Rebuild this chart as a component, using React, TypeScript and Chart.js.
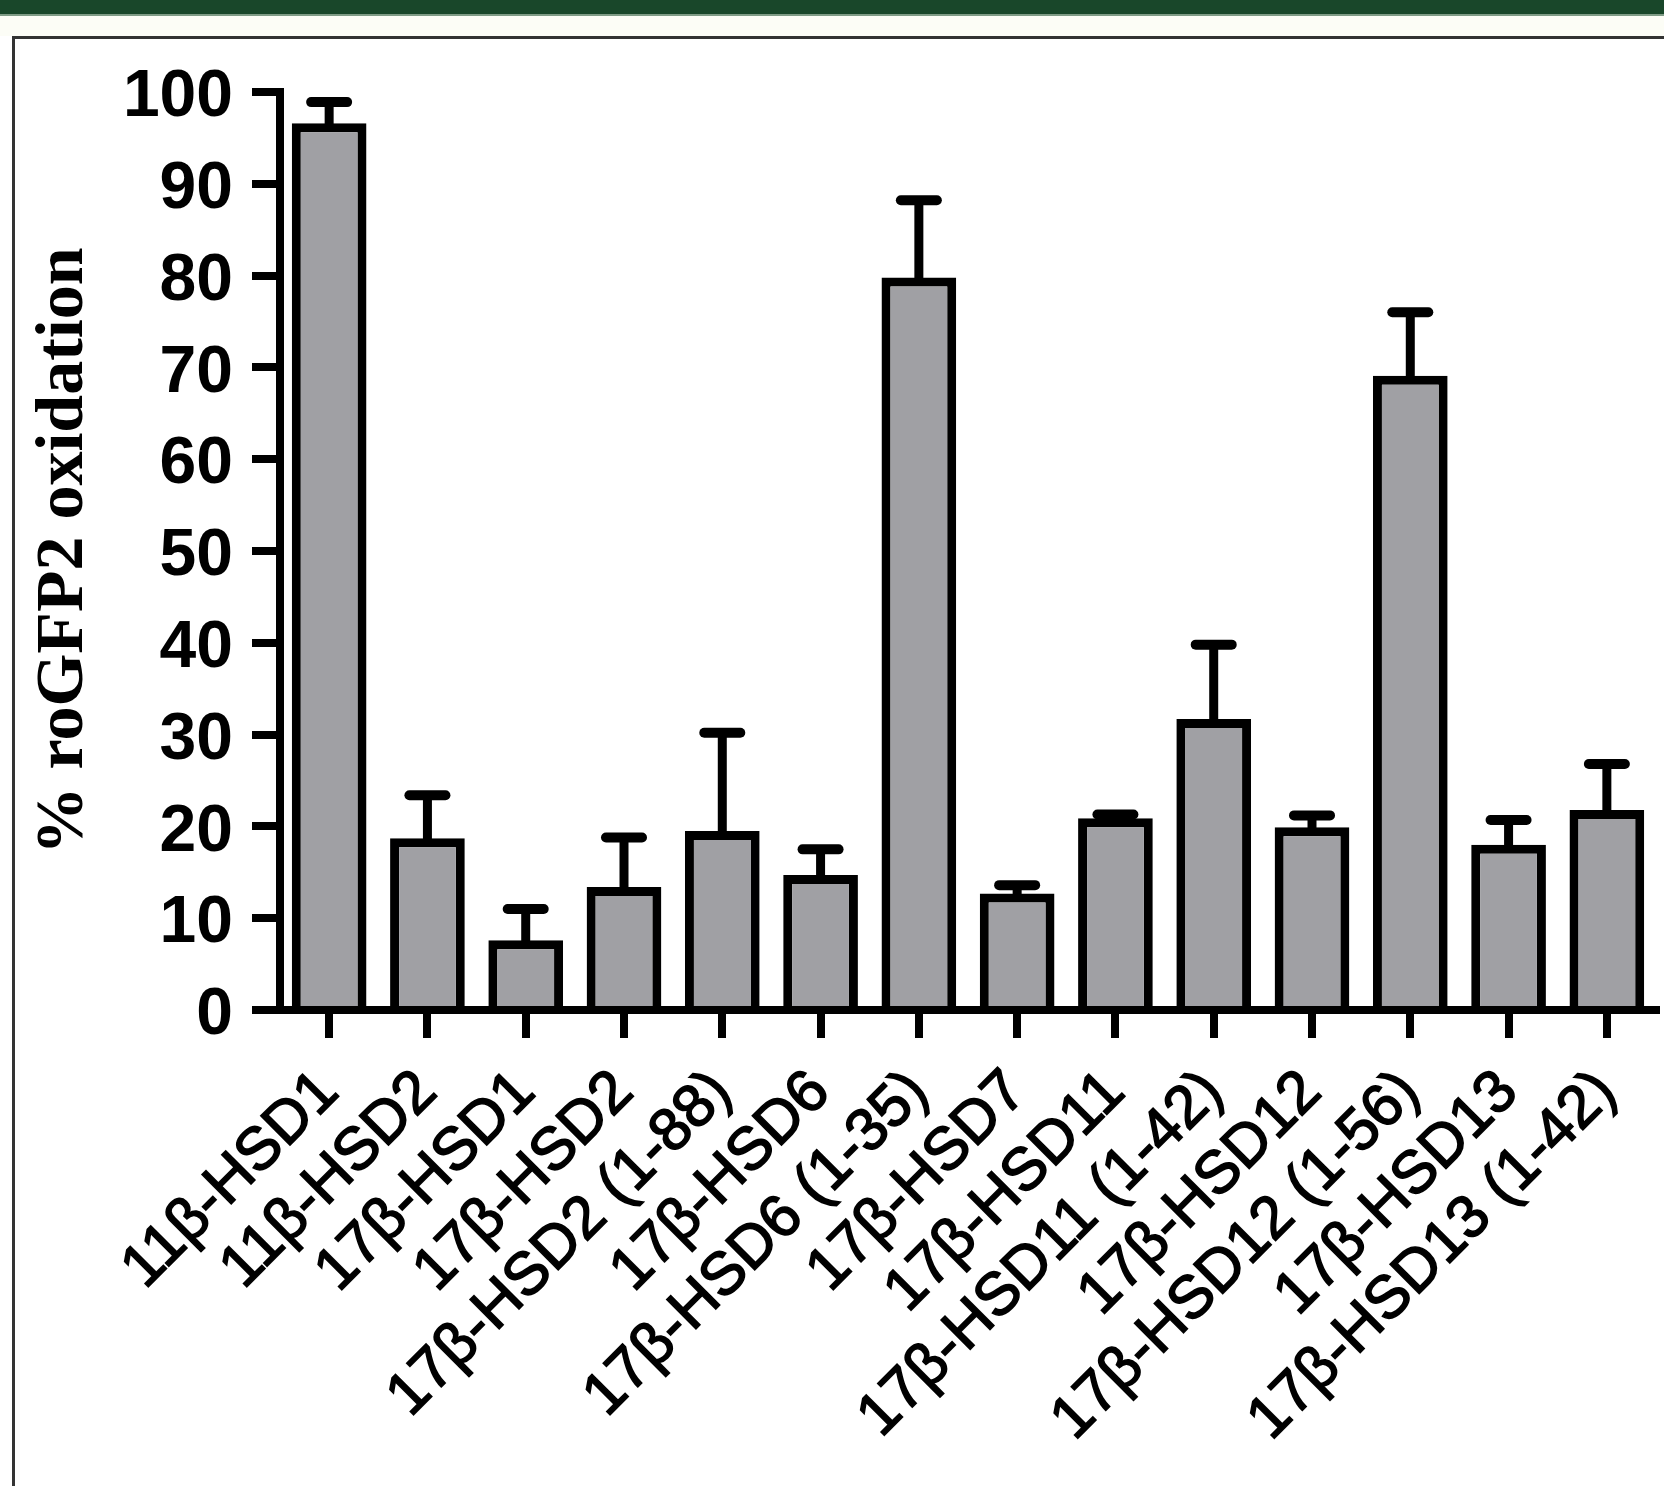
import React, { useEffect, useRef } from 'react';
import { Chart, registerables } from 'chart.js';

Chart.register(...registerables);

const categories = [
  '11β-HSD1',
  '11β-HSD2',
  '17β-HSD1',
  '17β-HSD2',
  '17β-HSD2 (1-88)',
  '17β-HSD6',
  '17β-HSD6 (1-35)',
  '17β-HSD7',
  '17β-HSD11',
  '17β-HSD11 (1-42)',
  '17β-HSD12',
  '17β-HSD12 (1-56)',
  '17β-HSD13',
  '17β-HSD13 (1-42)',
];
const meanValues = [96.6, 18.7, 7.6, 13.4, 19.5, 14.7, 79.8, 12.7, 20.9, 31.7, 19.9, 69.1, 18.0, 21.8];
const semValues = [2.3, 4.7, 3.4, 5.4, 10.7, 2.8, 8.4, 0.9, 0.4, 8.1, 1.3, 6.9, 2.7, 5.0];
const yTickValues = [0, 10, 20, 30, 40, 50, 60, 70, 80, 90, 100];
const yTitle = '% roGFP2 oxidation';

const errorBarPlugin = {
  id: 'errorBars',
  afterDatasetsDraw(chart: any) {
    const meta = chart.getDatasetMeta(0);
    const yScale = chart.scales.y;
    const ctx = chart.ctx;
    ctx.save();
    ctx.strokeStyle = '#000';
    meta.data.forEach((bar: any, i: number) => {
      const x = bar.x;
      const yb = yScale.getPixelForValue(meanValues[i]);
      const yt = yScale.getPixelForValue(meanValues[i] + semValues[i]);
      ctx.lineWidth = 9;
      ctx.lineCap = 'butt';
      ctx.beginPath();
      ctx.moveTo(x, yb + 4);
      ctx.lineTo(x, yt);
      ctx.stroke();
      ctx.lineWidth = 10;
      ctx.lineCap = 'round';
      ctx.beginPath();
      ctx.moveTo(x - 18, yt);
      ctx.lineTo(x + 18, yt);
      ctx.stroke();
    });
    ctx.restore();
  },
};

export default function App() {
  const canvasRef = useRef<HTMLCanvasElement | null>(null);

  useEffect(() => {
    if (!canvasRef.current) return;
    const chart = new Chart(canvasRef.current, {
      type: 'bar',
      data: {
        labels: categories,
        datasets: [
          {
            data: meanValues,
            backgroundColor: '#a0a0a4',
            borderColor: '#000',
            borderWidth: 9,
            barPercentage: 0.76,
            categoryPercentage: 1,
          },
        ],
      },
      options: {
        responsive: false,
        animation: false,
        devicePixelRatio: 1,
        layout: { padding: { top: 92, left: 0, right: 8, bottom: 0 } },
        plugins: {
          legend: { display: false },
          tooltip: { enabled: false },
        },
        scales: {
          x: {
            z: 1,
            offset: true,
            grid: {
              offset: false,
              drawOnChartArea: false,
              drawTicks: true,
              tickLength: 28,
              color: '#000',
              lineWidth: 8,
            },
            border: { display: true, color: '#000', width: 8 },
            ticks: {
              autoSkip: false,
              maxRotation: 45,
              minRotation: 45,
              padding: 19,
              color: '#000',
              textStrokeColor: '#000',
              textStrokeWidth: 1.6,
              font: { family: 'Liberation Sans', size: 60 },
            },
            afterFit(scale: any) {
              scale.height = 476;
              scale.paddingLeft = 0;
              scale.paddingRight = 0;
            },
          },
          y: {
            z: 1,
            min: 0,
            max: 100,
            afterBuildTicks(scale: any) {
              scale.ticks = yTickValues.map((v) => ({ value: v }));
            },
            grid: {
              drawOnChartArea: false,
              drawTicks: true,
              tickLength: 28,
              color: '#000',
              lineWidth: 8,
            },
            border: { display: true, color: '#000', width: 8 },
            ticks: {
              padding: 19,
              labelOffset: 6,
              color: '#000',
              font: { family: 'Liberation Sans', size: 66, weight: 'bold' },
            },
            title: {
              display: true,
              text: yTitle,
              color: '#000',
              padding: { top: 24, bottom: 0 },
              font: { family: 'Liberation Serif', size: 68, weight: 'bold' },
            },
            afterFit(scale: any) {
              scale.width = 280;
            },
          },
        },
      },
      plugins: [errorBarPlugin],
    });
    return () => chart.destroy();
  }, []);

  return (
    <div style={{ position: 'relative', width: 1664, height: 1486, background: '#fff', overflow: 'hidden' }}>
      <style>{'body{margin:0}'}</style>
      <div style={{ position: 'absolute', left: 0, top: 0, width: 1664, height: 14, background: '#19472a' }} />
      <div style={{ position: 'absolute', left: 0, top: 14, width: 1664, height: 2, background: '#7f9c86' }} />
      <div style={{ position: 'absolute', left: 0, top: 16, width: 1664, height: 20, background: '#fcfdf6' }} />
      <div
        style={{
          position: 'absolute',
          left: 12,
          top: 36,
          width: 1700,
          height: 1500,
          borderTop: '3px solid #333',
          borderLeft: '3px solid #333',
        }}
      />
      <canvas ref={canvasRef} width={1664} height={1486} style={{ position: 'absolute', left: 0, top: 0 }} />
    </div>
  );
}
